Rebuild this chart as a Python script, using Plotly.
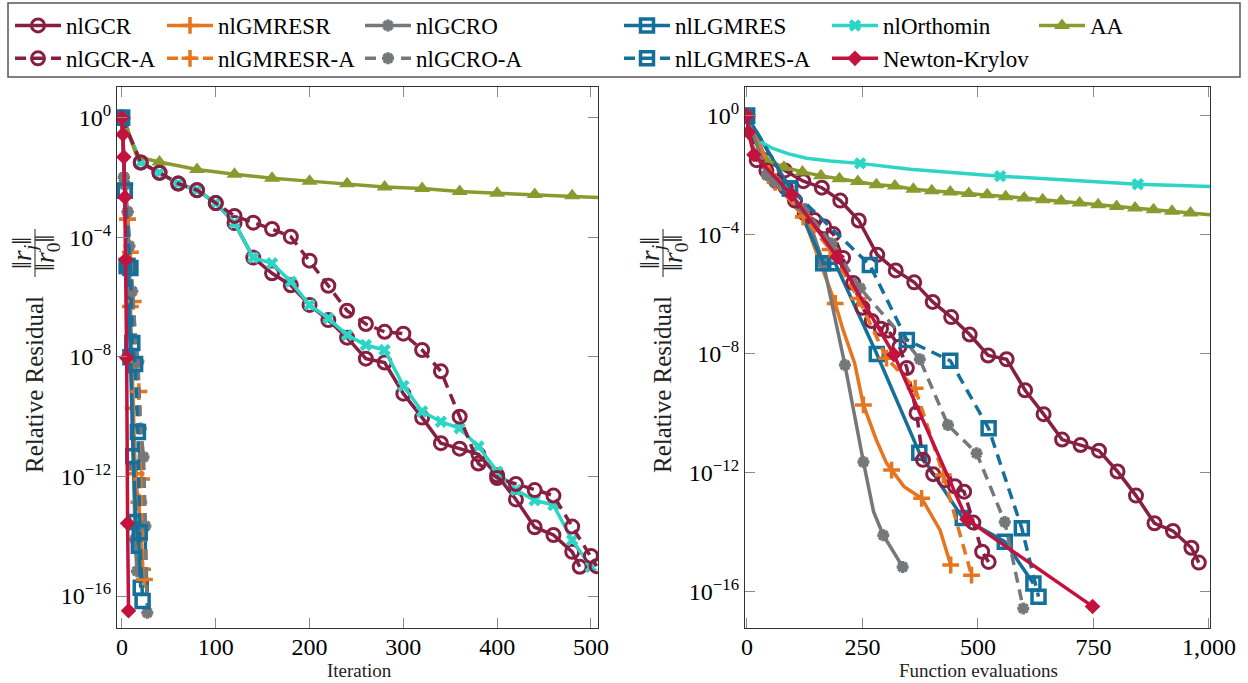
import plotly.graph_objects as go

W, H = 1248, 683

# ---------------- residual histories ----------------
# nlGCR: one iteration costs two function evaluations
gcr_iter = [0, 20, 40, 60, 80, 100, 120, 140, 160, 180, 200, 220, 240, 260, 280,
            300, 320, 340, 360, 380, 400, 420, 440, 460, 480, 488]
gcr_fe = [0, 42, 82, 122, 162, 202, 242, 282, 322, 362, 402, 442, 482, 522, 562,
          602, 642, 682, 722, 762, 802, 842, 882, 922, 962, 978]
gcr_res = [1.0, 3.2e-2, 1.45e-2, 6.3e-3, 3.8e-3, 1.4e-3, 3.0e-4, 2.1e-5, 6.3e-6, 2.5e-6,
           5.5e-7, 1.7e-7, 4.4e-8, 8.7e-9, 6.5e-9, 5.9e-10, 9.3e-11, 1.3e-11, 8.5e-12,
           5.5e-12, 1.1e-12, 1.7e-13, 2.0e-14, 1.1e-14, 3.0e-15, 9.5e-16]

# nlGCR-A
gcra_iter = [0, 20, 40, 60, 80, 100, 120, 140, 160, 180, 200, 220, 240, 260, 280,
             300, 320, 340, 360, 380, 400, 420, 440, 460, 480, 500, 506]
gcra_fe = [0, 21, 42, 63, 84, 104, 125, 146, 167, 187, 208, 230, 250, 270, 290,
           306, 330, 346, 367, 381, 403, 428, 450, 470, 490, 509, 523]
gcra_res = [1.0, 3.2e-2, 1.45e-2, 6.3e-3, 3.8e-3, 1.4e-3, 5.2e-4, 3.1e-4, 1.9e-4, 1.05e-4,
            1.66e-5, 2.4e-6, 3.5e-7, 1.26e-7, 6.9e-8, 6.0e-8, 1.7e-8, 3.3e-9, 1.0e-10,
            2.7e-12, 8.9e-13, 5.6e-13, 3.5e-13, 2.3e-13, 2.1e-14, 2.2e-15, 1.0e-15]

# nlGMRESR
gmresr_iter = [0, 3, 6, 9, 10, 11, 12, 13, 14, 15, 16, 18, 20, 22]
gmresr_fe = [0, 61, 122, 191, 208, 233, 252, 280, 302, 313, 340, 378, 418, 441]
gmresr_res = [1.0, 5.9e-3, 4.0e-4, 4.9e-7, 6.3e-8, 4.8e-9, 1.9e-10, 1.26e-11, 2.1e-12,
              1.23e-12, 3.4e-13, 1.38e-13, 1.17e-14, 7.9e-16]
gmresr_marks = [0, 61, 122, 191, 252, 313, 378, 441]

# nlGMRESR-A
gmresra_iter = [0, 3, 6, 9, 12, 15, 18, 21, 24]
gmresra_fe = [0, 61, 122, 180, 241, 302, 364, 425, 486]
gmresra_res = [1.0, 5.9e-3, 4.0e-4, 3.2e-5, 7.2e-7, 7.1e-9, 6.9e-10, 8.3e-13, 3.6e-16]

# nlGCRO
gcro_iter = [0, 2, 3, 6, 8, 10, 12, 13, 14, 16]
gcro_fe = [0, 43, 61, 126, 165, 212, 252, 274, 295, 337]
gcro_res = [1.0, 1.02e-2, 5.9e-3, 7.2e-4, 1.12e-5, 4.2e-9, 2.3e-12, 4.9e-14, 7.9e-15, 6.8e-16]
gcro_marks = [0, 43, 61, 126, 165, 212, 252, 295, 337]

# nlGCRO-A
gcroa_iter = [0, 2, 3, 6, 8, 11, 14, 17, 20, 23, 25, 27]
gcroa_fe = [0, 43, 61, 125, 183, 245, 320, 374, 435, 497, 558, 598]
gcroa_res = [1.0, 1.02e-2, 5.9e-3, 7.2e-4, 5.1e-5, 1.58e-6, 7.4e-8, 6.5e-9, 4.0e-11,
             4.5e-12, 2.2e-14, 2.75e-17]
gcroa_marks = [0, 43, 61, 125, 183, 245, 374, 435, 497, 558, 598]

# nlLGMRES
lgmres_iter = [0, 3, 5, 6, 9, 12, 15, 18, 20]
lgmres_fe = [0, 93, 165, 191, 281, 373, 467, 558, 620]
lgmres_res = [1.0, 3.6e-3, 1.1e-5, 1.1e-5, 9.8e-9, 4.7e-12, 3.0e-14, 4.8e-15, 1.9e-16]

# nlLGMRES-A
lgmresa_iter = [0, 3, 9, 11, 14, 17, 19, 22]
lgmresa_fe = [0, 93, 266, 346, 440, 523, 595, 631]
lgmresa_res = [1.0, 3.6e-3, 9.5e-6, 2.9e-8, 5.8e-9, 3.1e-11, 1.35e-14, 6.8e-17]

# nlOrthomin, per iteration
orth_iter = [0, 20, 40, 60, 80, 100, 120, 140, 160, 180, 200, 220, 240, 260, 280,
             300, 320, 340, 360, 380, 400, 420, 440, 460, 480, 500]
orth_res = [1.0, 3.2e-2, 1.45e-2, 6.3e-3, 3.8e-3, 1.4e-3, 3.0e-4, 2.1e-5, 1.35e-5, 3.3e-6,
            5.5e-7, 1.95e-7, 5.4e-8, 2.5e-8, 1.7e-8, 1.07e-9, 1.5e-10, 6.8e-11, 4.1e-11,
            1.0e-11, 1.45e-12, 3.5e-13, 1.6e-13, 1.1e-13, 7.4e-15, 9.5e-16]
# nlOrthomin, per function evaluation
orth_fe = [0, 6, 14, 30, 56, 90, 129, 180, 245, 353, 548, 700, 846, 1010]
orth_fe_res = [1.0, 0.45, 0.22, 0.13, 0.079, 0.052, 0.037, 0.030, 0.025, 0.016, 0.0093,
               0.0068, 0.0050, 0.0041]
orth_fe_marks = [0, 245, 548, 846]

# Anderson acceleration (one function evaluation per iteration)
aa_x = [0, 5, 9, 16, 40, 80, 120, 160, 200, 240, 280, 320, 360, 400, 440, 480, 520, 560,
        600, 640, 680, 720, 760, 800, 840, 880, 920, 960, 1008]
aa_res = [1.0, 0.56, 0.20, 0.050, 0.033, 0.0186, 0.0129, 0.0095, 0.0076, 0.0062, 0.0048,
          0.0043, 0.0034, 0.0030, 0.0027, 0.00245, 0.0022, 0.0019, 0.0017, 0.0015, 0.00135,
          0.00117, 0.00102, 0.00089, 0.00079, 0.00069, 0.00062, 0.00054, 0.00046]
aa_marks = [v for v in aa_x if v % 40 == 0]

# Newton-Krylov
nk_iter = [0, 1, 2, 3, 4, 5, 6, 7]
nk_fe = [0, 3, 15, 97, 195, 318, 476, 748]
nk_res = [1.0, 0.28, 0.049, 2.2e-3, 1.8e-5, 9.3e-9, 2.7e-14, 3.2e-17]

# ---------------- axis ticks ----------------
iter_ticks = [0, 100, 200, 300, 400, 500]
fe_ticks = [0, 250, 500, 750, 1000]
fe_tick_text = ["0", "250", "500", "750", "1,000"]
res_ticks = [1e0, 1e-4, 1e-8, 1e-12, 1e-16]
res_tick_text = ["10<sup>0</sup>", "10<sup>\u22124</sup>", "10<sup>\u22128</sup>",
                 "10<sup>\u221212</sup>", "10<sup>\u221216</sup>"]

# ---------------- styles ----------------
MAROON = "#861F41"
ORANGE = "#E5751F"
GRAY = "#75787B"
BLUE = "#14709A"
TURQ = "#2CD5C4"
OLIVE = "#8B9A2E"
CRIMSON = "#C4123F"
DASH = "11px,7px"
FONT = "Liberation Serif, serif"

series = [
    dict(name="nlGCR", color=MAROON, sym="circle-open", ms=13, mlw=3, dash="solid", col=1,
         left=(gcr_iter, gcr_res, None), right=(gcr_fe, gcr_res, None)),
    dict(name="nlGMRESR", color=ORANGE, sym="cross-thin-open", ms=12, mlw=3.5, dash="solid", col=2,
         left=(gmresr_iter, gmresr_res, [gmresr_iter[gmresr_fe.index(v)] for v in gmresr_marks]),
         right=(gmresr_fe, gmresr_res, gmresr_marks)),
    dict(name="nlGCRO", color=GRAY, sym="asterisk-open", ms=10, mlw=3.5, dash="solid", col=3,
         left=(gcro_iter, gcro_res, [gcro_iter[gcro_fe.index(v)] for v in gcro_marks]),
         right=(gcro_fe, gcro_res, gcro_marks)),
    dict(name="nlLGMRES", color=BLUE, sym="square-open", ms=13, mlw=3.5, dash="solid", col=4,
         left=(lgmres_iter, lgmres_res, None), right=(lgmres_fe, lgmres_res, None)),
    dict(name="nlOrthomin", color=TURQ, sym="x", ms=11, mlw=0, dash="solid", col=5,
         left=(orth_iter, orth_res, None), right=(orth_fe, orth_fe_res, orth_fe_marks)),
    dict(name="AA", color=OLIVE, sym="triangle-up", ms=14, mlw=0, dash="solid", col=6,
         left=(aa_x, aa_res, aa_marks), right=(aa_x, aa_res, aa_marks)),
    dict(name="nlGCR-A", color=MAROON, sym="circle-open", ms=13, mlw=3, dash=DASH, col=1,
         left=(gcra_iter, gcra_res, None), right=(gcra_fe, gcra_res, None)),
    dict(name="nlGMRESR-A", color=ORANGE, sym="cross-thin-open", ms=12, mlw=3.5, dash=DASH, col=2,
         left=(gmresra_iter, gmresra_res, None), right=(gmresra_fe, gmresra_res, None)),
    dict(name="nlGCRO-A", color=GRAY, sym="asterisk-open", ms=10, mlw=3.5, dash=DASH, col=3,
         left=(gcroa_iter, gcroa_res, [gcroa_iter[gcroa_fe.index(v)] for v in gcroa_marks]),
         right=(gcroa_fe, gcroa_res, gcroa_marks)),
    dict(name="nlLGMRES-A", color=BLUE, sym="square-open", ms=13, mlw=3.5, dash=DASH, col=4,
         left=(lgmresa_iter, lgmresa_res, None), right=(lgmresa_fe, lgmresa_res, None)),
    dict(name="Newton-Krylov", color=CRIMSON, sym="diamond", ms=12, mlw=0, dash="solid", col=5,
         left=(nk_iter, nk_res, None), right=(nk_fe, nk_res, None)),
]

fig = go.Figure()


def marker_style(s):
    return dict(symbol=s["sym"], size=s["ms"], color=s["color"],
                line=dict(color=s["color"], width=s["mlw"]))


def add_curve(s, x, y, marks, xa, ya):
    fig.add_trace(go.Scatter(x=x, y=y, xaxis=xa, yaxis=ya, mode="lines",
                             line=dict(color=s["color"], width=3.5, dash=s["dash"]),
                             showlegend=False, hoverinfo="skip"))
    if marks is None:
        mx, my = x, y
    else:
        idx = [i for i, v in enumerate(x) if v in marks]
        mx = [x[i] for i in idx]
        my = [y[i] for i in idx]
    fig.add_trace(go.Scatter(x=mx, y=my, xaxis=xa, yaxis=ya, mode="markers",
                             marker=marker_style(s), showlegend=False, hoverinfo="skip"))


for s in series:
    add_curve(s, *s["left"], "x", "y")
    add_curve(s, *s["right"], "x2", "y2")

# legend entries, one legend per column
for s in series:
    lg = "legend" if s["col"] == 1 else "legend%d" % s["col"]
    fig.add_trace(go.Scatter(x=[None], y=[None], xaxis="x", yaxis="y", name=s["name"],
                             mode="lines+markers",
                             line=dict(color=s["color"], width=3.5, dash=s["dash"]),
                             marker=marker_style(s), legend=lg, showlegend=True))

legend_left = [10, 162, 360, 619, 827, 1034]
legends = {}
for i, px in enumerate(legend_left):
    key = "legend" if i == 0 else "legend%d" % (i + 1)
    legends[key] = dict(x=px / W, xanchor="left", y=1 - 4 / H, yanchor="top",
                        orientation="v", bgcolor="rgba(0,0,0,0)", borderwidth=0,
                        itemwidth=46, font=dict(family=FONT, size=23, color="black"),
                        tracegroupgap=0, itemclick=False, itemdoubleclick=False)

axis_common = dict(showline=True, linecolor="#333333", linewidth=1.3, mirror="ticks",
                   ticks="inside", ticklen=10, tickwidth=1.4, tickcolor="#8a8a8a",
                   showgrid=False, zeroline=False, automargin=False,
                   tickfont=dict(family=FONT, size=24, color="black"))

fig.update_layout(
    width=W, height=H, margin=dict(l=0, r=0, t=0, b=0),
    paper_bgcolor="white", plot_bgcolor="white",
    font=dict(family=FONT, color="black"),
    xaxis=dict(domain=[117 / W, 598 / W], range=[-5.3, 507.5], anchor="y",
               tickvals=iter_ticks, ticktext=[str(v) for v in iter_ticks],
               ticklabelstandoff=-3, **axis_common),
    yaxis=dict(domain=[1 - 628 / H, 1 - 87 / H], type="log", range=[-17.07, 1.03], anchor="x",
               tickvals=res_ticks, ticktext=res_tick_text, **axis_common),
    xaxis2=dict(domain=[745 / W, 1210 / W], range=[-4.3, 1002.2], anchor="y2",
                tickvals=fe_ticks, ticktext=fe_tick_text,
                ticklabelstandoff=-3, **axis_common),
    yaxis2=dict(domain=[1 - 628 / H, 1 - 87 / H], type="log", range=[-17.22, 0.965], anchor="x2",
                tickvals=res_ticks, ticktext=res_tick_text, **axis_common),
    hovermode=False,
    **legends,
)

# legend frame
fig.add_shape(type="rect", xref="paper", yref="paper", x0=8 / W, x1=1240 / W,
              y0=1 - 77 / H, y1=1 - 3 / H, line=dict(color="#555555", width=1.5))


# axis titles
def paper_annot(text, px, py, size, angle=0):
    fig.add_annotation(text=text, xref="paper", yref="paper", x=px / W, y=1 - py / H,
                       xanchor="center", yanchor="middle", showarrow=False, textangle=angle,
                       font=dict(family=FONT, size=size, color="#222222"))


paper_annot("Iteration", 360, 670, 19)
paper_annot("Function evaluations", 978, 670, 19)
for off in (0, 628):
    paper_annot("Relative Residual", 34 + off, 385, 25, -90)
    paper_annot("\u2016<i>r<sub>j</sub></i>\u2016", 23 + off, 253, 28, -90)
    paper_annot("\u2016<i>r</i><sub>0</sub>\u2016", 46 + off, 253, 28, -90)
    fig.add_shape(type="line", xref="paper", yref="paper",
                  x0=(35 + off) / W, x1=(35 + off) / W, y0=1 - 229 / H, y1=1 - 277 / H,
                  line=dict(color="#222222", width=1))

fig.write_html("out.html")
